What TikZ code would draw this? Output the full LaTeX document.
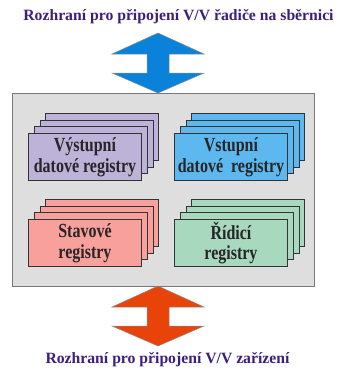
\documentclass[tikz,border=0pt]{standalone}
\usepackage{fontspec}
\setmainfont{Liberation Serif}
\newfontfamily\cardfont[FakeStretch=0.8]{Liberation Serif}
\definecolor{titlec}{RGB}{60,30,125}
\definecolor{lav}{RGB}{189,178,215}
\definecolor{skyc}{RGB}{94,184,240}
\definecolor{pinkc}{RGB}{248,160,155}
\definecolor{mintc}{RGB}{168,216,190}
\definecolor{arrowblue}{RGB}{10,130,218}
\definecolor{arroworange}{RGB}{232,68,10}
\definecolor{boxfill}{RGB}{222,222,222}
\definecolor{boxline}{RGB}{120,120,120}
\begin{document}
\begin{tikzpicture}[x=1pt,y=-1pt,
  titletext/.style={text=titlec, font=\bfseries\fontsize{15.7}{18}\selectfont, inner sep=0pt, anchor=base},
  outerbox/.style={draw=boxline, fill=boxfill, line width=1.4pt, minimum width=302pt, minimum height=193pt, anchor=north west, inner sep=0pt},
  card/.style={draw=black!80, line width=0.9pt, minimum width=113pt, minimum height=47pt, inner sep=0pt, anchor=north west, align=center, text=black!85, font=\cardfont\bfseries\fontsize{20}{20.7}\selectfont},
  dblarrow/.pic={\path[pic actions] (0,0) -- (-46,21) -- (-11,21) -- (-11,40) -- (-46,40) -- (0,60) -- (46,40) -- (11,40) -- (11,21) -- (46,21) -- cycle;},
  arrowline/.style={draw=black!45, line width=0.5pt}
]
\useasboundingbox (0,0) rectangle (343,372);

\node[titletext] (ttop) at (178.5,20.7) {Rozhraní pro připojení V/V řadiče na sběrnici};
\node[titletext] (tbot) at (167.5,363) {Rozhraní pro připojení V/V zařízení};

\node[outerbox] (box) at (12,93) {};

\pic[arrowline, fill=arrowblue] at (158,33) {dblarrow};
\pic[arrowline, fill=arroworange] at (158,286) {dblarrow};

% top-left stack
\foreach \k in {3,2,1} \node[card, fill=lav] (vys\k) at ({28+5.8*\k},{133-6.7*\k}) {};
\node[card, fill=lav] (vys) at (28,133) {Výstupní\\datové registry};

% top-right stack
\foreach \k in {3,2,1} \node[card, fill=skyc] (vst\k) at ({174+5.8*\k},{133-6.7*\k}) {};
\node[card, fill=skyc] (vst) at (174,133) {Vstupní\\datové\ \ registry};

% bottom-left stack
\foreach \k in {3,2,1} \node[card, fill=pinkc] (sta\k) at ({28+5.8*\k},{219-6.7*\k}) {};
\node[card, fill=pinkc] (sta) at (28,219) {Stavové\\registry};

% bottom-right stack
\foreach \k in {3,2,1} \node[card, fill=mintc] (rid\k) at ({174+5.8*\k},{219-6.7*\k}) {};
\node[card, fill=mintc] (rid) at (174,219) {Řídicí\\registry};
\end{tikzpicture}
\end{document}
